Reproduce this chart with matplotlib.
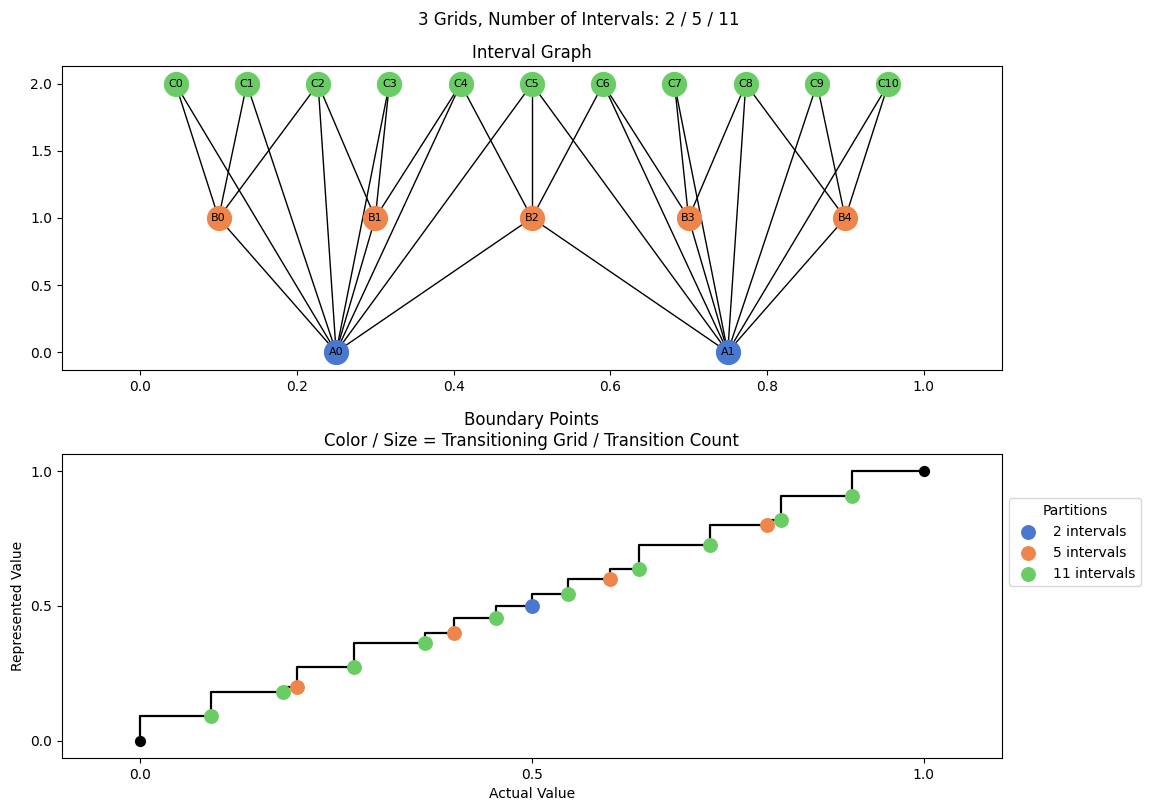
import matplotlib
matplotlib.use("Agg")
import matplotlib.pyplot as plt

# interval graph nodes (x = interval centre, level = grid)
a_names = ["A0", "A1"]
a_x = [0.25, 0.75]
b_names = ["B0", "B1", "B2", "B3", "B4"]
b_x = [0.1, 0.3, 0.5, 0.7, 0.9]
c_names = ["C0", "C1", "C2", "C3", "C4", "C5", "C6", "C7", "C8", "C9", "C10"]
c_x = [0.045, 0.136, 0.227, 0.318, 0.409, 0.5, 0.591, 0.682, 0.773, 0.864, 0.955]
levels = [0, 1, 2]

# overlapping intervals
edges = [
    ("A0", "B0"), ("A0", "B1"), ("A0", "B2"),
    ("A0", "C0"), ("A0", "C1"), ("A0", "C2"), ("A0", "C3"), ("A0", "C4"), ("A0", "C5"),
    ("A1", "B2"), ("A1", "B3"), ("A1", "B4"),
    ("A1", "C5"), ("A1", "C6"), ("A1", "C7"), ("A1", "C8"), ("A1", "C9"), ("A1", "C10"),
    ("B0", "C0"), ("B0", "C1"), ("B0", "C2"),
    ("B1", "C2"), ("B1", "C3"), ("B1", "C4"),
    ("B2", "C4"), ("B2", "C5"), ("B2", "C6"),
    ("B3", "C6"), ("B3", "C7"), ("B3", "C8"),
    ("B4", "C8"), ("B4", "C9"), ("B4", "C10"),
]

# boundary points
actual = [0.0, 0.0909, 0.1818, 0.2, 0.2727, 0.3636, 0.4, 0.4545, 0.5,
          0.5455, 0.6, 0.6364, 0.7273, 0.8, 0.8182, 0.9091, 1.0]
represented = [0.0, 0.0909, 0.1818, 0.2, 0.2727, 0.3636, 0.4, 0.4545, 0.5,
               0.5455, 0.6, 0.6364, 0.7273, 0.8, 0.8182, 0.9091, 1.0]
grid_of_point = [0, 11, 11, 5, 11, 11, 5, 11, 2, 11, 5, 11, 11, 5, 11, 11, 0]
grids = [2, 5, 11]
colors = ["#4878d0", "#ee854a", "#6acc64"]

fig = plt.figure(figsize=(11.58, 8.11), dpi=100)
fig.suptitle("3 Grids, Number of Intervals: 2 / 5 / 11", fontsize=12, y=0.987)

ax1 = fig.add_axes([0.0535, 0.5438, 0.8117, 0.3748])
pos = {}
for names, xs, lev in zip([a_names, b_names, c_names], [a_x, b_x, c_x], levels):
    for n, x in zip(names, xs):
        pos[n] = (x, lev)
for u, v in edges:
    ax1.plot([pos[u][0], pos[v][0]], [pos[u][1], pos[v][1]], color="black", lw=1, zorder=1)
for names, xs, lev, col in zip([a_names, b_names, c_names], [a_x, b_x, c_x], levels, colors):
    ax1.scatter(xs, [lev] * len(xs), s=330, color=col, linewidths=0, zorder=2)
    for n, x in zip(names, xs):
        ax1.text(x, lev, n, ha="center", va="center", fontsize=8, zorder=3)
ax1.set_xlim(-0.1, 1.1)
ax1.set_ylim(-0.134, 2.134)
ax1.set_xticks([0.0, 0.2, 0.4, 0.6, 0.8, 1.0])
ax1.set_yticks([0.0, 0.5, 1.0, 1.5, 2.0])
ax1.set_title("Interval Graph", fontsize=12)

ax2 = fig.add_axes([0.0535, 0.0654, 0.8117, 0.3748])
ax2.plot(actual, represented, color="black", lw=1.6, drawstyle="steps-pre", zorder=1)
ends = [i for i, g in enumerate(grid_of_point) if g == 0]
ax2.scatter([actual[i] for i in ends], [represented[i] for i in ends], s=50, color="black", zorder=3)
for g, col in zip(grids, colors):
    idx = [i for i, gp in enumerate(grid_of_point) if gp == g]
    ax2.scatter([actual[i] for i in idx], [represented[i] for i in idx], s=115, color=col,
                linewidths=0, zorder=2, label=f"{g} intervals")
ax2.set_xlim(-0.1, 1.1)
ax2.set_ylim(-0.063, 1.063)
ax2.set_xticks([0.0, 0.5, 1.0])
ax2.set_yticks([0.0, 0.5, 1.0])
ax2.set_xlabel("Actual Value")
ax2.set_ylabel("Represented Value")
ax2.set_title("Boundary Points\nColor / Size = Transitioning Grid / Transition Count", fontsize=12)
ax2.legend(title="Partitions", loc="center left", bbox_to_anchor=(1.0, 0.71))

fig.savefig("out.png", dpi=100)
